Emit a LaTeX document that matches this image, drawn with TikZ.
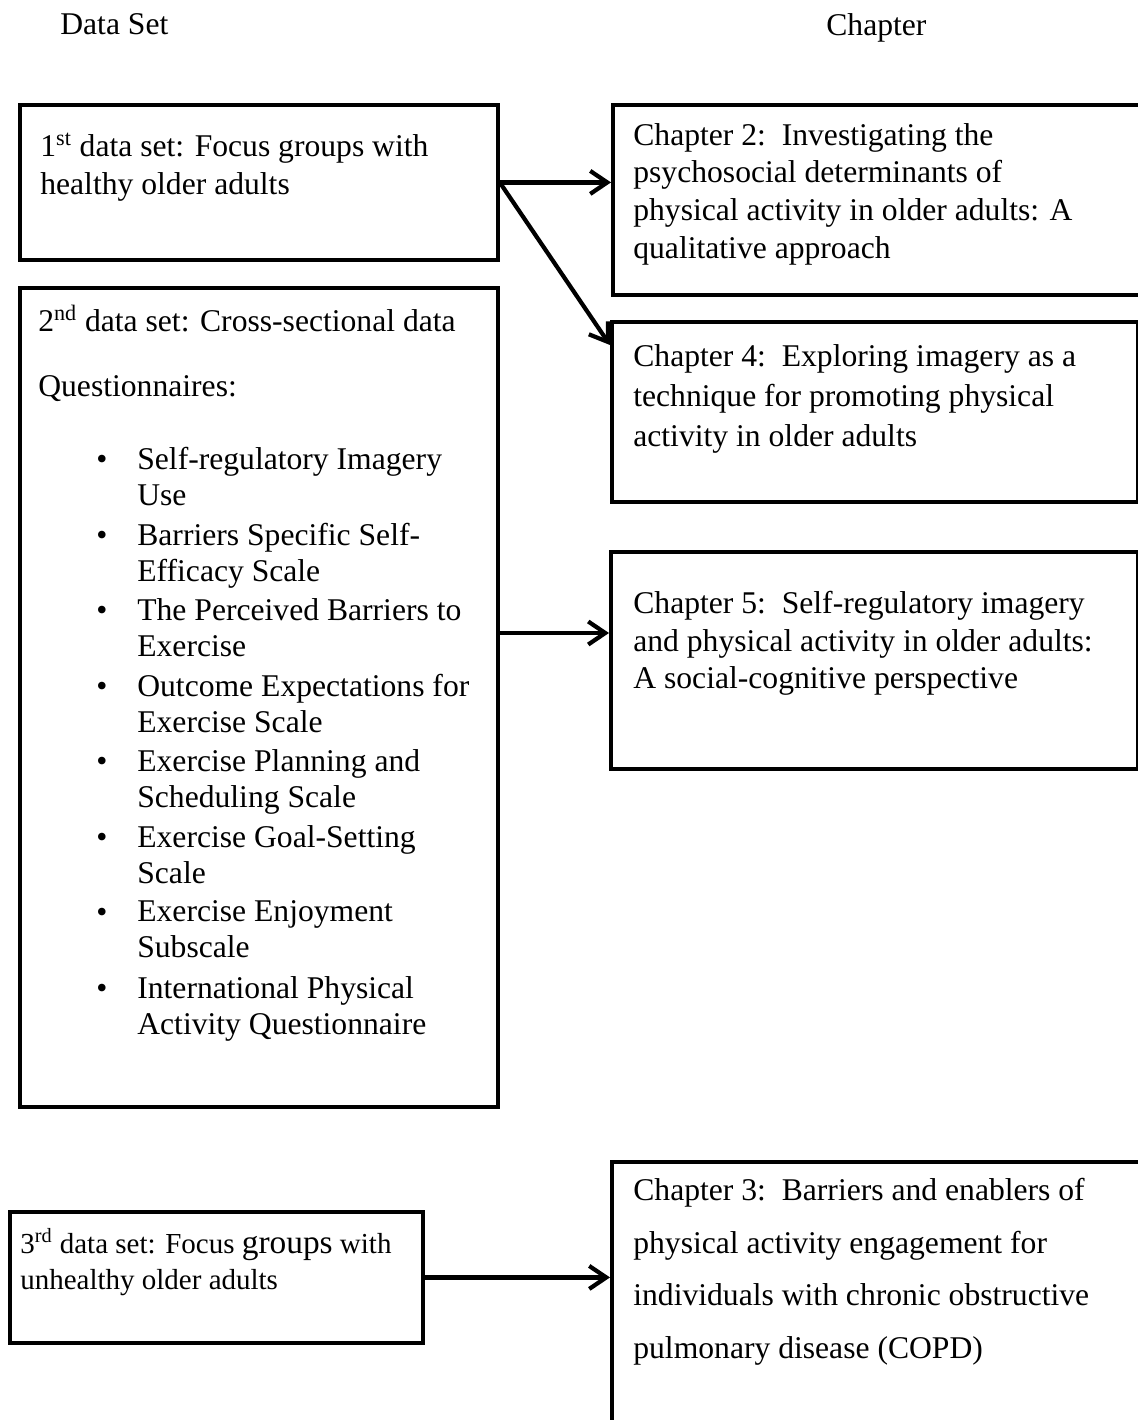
\documentclass[tikz,border=0pt]{standalone}
\usepackage{fontspec}
\setmainfont{Liberation Serif}
\usetikzlibrary{arrows.meta,calc}

\tikzset{
  box/.style={draw,line width=2.2pt,anchor=north west,inner sep=0pt},
  txt/.style={anchor=north west,inner sep=0pt,align=left,font=\fontsize{18pt}{21.4pt}\selectfont},
  bul/.style={anchor=base west,inner sep=0pt,font=\fontsize{18pt}{21.4pt}\selectfont},
  arr/.style={-{Straight Barb[length=0.34cm,width=0.46cm]},line width=2.4pt},
}

\begin{document}
\begin{tikzpicture}[x=0.02cm,y=-0.02cm]
\useasboundingbox (0,0) rectangle (1138,1420);
\clip (0,0) rectangle (1138,1420);

%---------------- Column titles ----------------
\node[txt] (hdata) at (60,13) {Data Set};
\node[txt] (hchap) at (826,13) {Chapter};

%---------------- Left column: data sets ----------------
% 1st data set
\node[box,minimum width=9.56cm,minimum height=3.1cm] (ds1) at (18,103) {};
\node[txt] (ds1t) at (40,133) {1\textsuperscript{st} data set: Focus groups with\\healthy older adults};

% 2nd data set
\node[box,minimum width=9.56cm,minimum height=16.38cm] (ds2) at (18,286) {};
\node[txt] (ds2t) at (38,305) {2\textsuperscript{nd} data set: Cross-sectional data};
\node[txt] (qhead) at (38,375) {Questionnaires:};

% Questionnaire list
\tikzset{item/.style={txt,font=\fontsize{18pt}{20.5pt}\selectfont}}
\node[bul] (b1) at (96,469) {\textbullet};
\node[item] (q1) at (137,447) {Self-regulatory Imagery\\Use};
\node[bul] (b2) at (96,545) {\textbullet};
\node[item] (q2) at (137,523) {Barriers Specific Self-\\Efficacy Scale};
\node[bul] (b3) at (96,620) {\textbullet};
\node[item] (q3) at (137,598) {The Perceived Barriers to\\Exercise};
\node[bul] (b4) at (96,696) {\textbullet};
\node[item] (q4) at (137,674) {Outcome Expectations for\\Exercise Scale};
\node[bul] (b5) at (96,771) {\textbullet};
\node[item] (q5) at (137,749) {Exercise Planning and\\Scheduling Scale};
\node[bul] (b6) at (96,847) {\textbullet};
\node[item] (q6) at (137,825) {Exercise Goal-Setting\\Scale};
\node[bul] (b7) at (96,922) {\textbullet};
\node[item] (q7) at (137,900) {Exercise Enjoyment\\Subscale};
\node[bul] (b8) at (96,998) {\textbullet};
\node[item] (q8) at (137,976) {International Physical\\Activity Questionnaire};

% 3rd data set
\node[box,minimum width=8.26cm,minimum height=2.62cm] (ds3) at (8,1210) {};
\node[txt,font=\fontsize{16.5pt}{20.5pt}\selectfont] (ds3t) at (20,1228)
  {3\textsuperscript{rd} data set: Focus {\fontsize{19pt}{20.5pt}\selectfont groups} with\\unhealthy older adults};

%---------------- Right column: chapters ----------------
\node[box,minimum width=10.78cm,minimum height=3.8cm] (ch2) at (611,103) {};
\node[txt] (ch2t) at (633,123) {Chapter 2:\ \ Investigating the\\psychosocial determinants of\\physical activity in older adults: A\\qualitative approach};

\node[box,minimum width=10.52cm,minimum height=3.6cm] (ch4) at (610,320) {};
\node[txt,font=\fontsize{18pt}{22.8pt}\selectfont] (ch4t) at (633,344) {Chapter 4:\ \ Exploring imagery as a\\technique for promoting physical\\activity in older adults};

\node[box,minimum width=10.54cm,minimum height=4.34cm] (ch5) at (609,550) {};
\node[txt] (ch5t) at (633,591) {Chapter 5:\ \ Self-regulatory imagery\\and physical activity in older adults:\\A social-cognitive perspective};

\node[box,minimum width=10.8cm,minimum height=5.6cm] (ch3) at (610,1160) {};
\node[txt,font=\fontsize{18pt}{29.9pt}\selectfont] (ch3t) at (633,1178) {Chapter 3:\ \ Barriers and enablers of\\physical activity engagement for\\individuals with chronic obstructive\\pulmonary disease (COPD)};

%---------------- Links ----------------
\coordinate (ch4in) at ($(ch4.north west)+(0,25)$);
\coordinate (ch5in) at ($(ch5.north west)+(0,83)$);
\draw[arr] (ds1.east) -- (ds1.east -| ch2.west);
\draw[arr] (ds1.east) -- (ch4in);
\draw[arr] (ch5in -| ds2.east) -- (ch5in);
\draw[arr] (ds3.east) -- (ds3.east -| ch3.west);

\end{tikzpicture}
\end{document}
